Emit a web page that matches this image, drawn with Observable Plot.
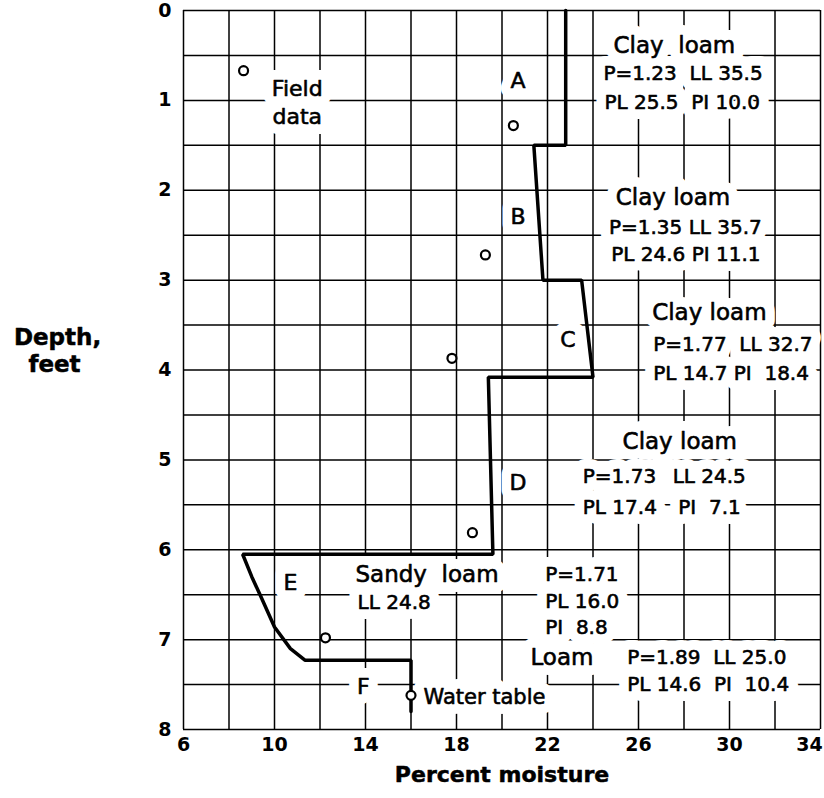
<!DOCTYPE html>
<html>
<head>
<meta charset="utf-8">
<script src="https://cdn.jsdelivr.net/npm/d3@7"></script>
<script src="https://cdn.jsdelivr.net/npm/@observablehq/plot@0.6"></script>
<style>
  html, body { margin: 0; padding: 0; background: #fff; }
  #chart svg { display: block; }
</style>
</head>
<body>
<div id="chart"></div>
<script>
// ---- data ----
const xTickValues = [6, 10, 14, 18, 22, 26, 30];
const xLastTick = [34];
const yTickValues = [0, 1, 2, 3, 4, 5, 6, 7, 8];
const xGridValues = [6, 8, 10, 12, 14, 16, 18, 20, 22, 24, 26, 28, 30, 32, 34];
const yGridValues = [0, 0.5, 1, 1.5, 2, 2.5, 3, 3.5, 4, 4.5, 5, 5.5, 6, 6.5, 7, 7.5, 8];

// moisture profile (percent moisture vs depth, ft)
const profileMoisture = [22.8, 22.8, 21.4, 21.8, 23.5, 24.0, 19.4, 19.6, 8.6, 9.0, 9.4, 10.0, 10.7, 11.35, 16.0, 16.0];
const profileDepth    = [0,    1.5,  1.5,  3.0,  3.0,  4.08, 4.08, 6.05, 6.05, 6.3, 6.52, 6.86, 7.1, 7.23, 7.23, 7.8];

// field data points
const fieldMoisture = [8.64, 20.5, 19.27, 17.8, 18.7, 12.24];
const fieldDepth    = [0.67, 1.28, 2.72, 3.87, 5.81, 6.98];

// water table
const waterMoisture = [16.0];
const waterDepth = [7.62];

// layer letters
const layerNames = ["A", "B", "C", "D", "E", "F"];
const layerX = [20.7, 20.7, 22.9, 20.7, 10.7, 13.9];
const layerY = [0.78, 2.3, 3.67, 5.26, 6.37, 7.53];

// soil type headings
const soilNames = ["Clay\u00a0 loam", "Clay loam", "Clay loam", "Clay loam", "Sandy\u00a0 loam", "Loam"];
const soilX = [24.9, 25.0, 26.6, 25.3, 13.56, 21.25];
const soilY = [0.39, 2.08, 3.36, 4.8, 6.28, 7.2];

// soil property lines
const propText = [
  "P=1.23\u00a0 LL 35.5", "PL 25.5\u00a0 PI 10.0",
  "P=1.35 LL 35.7", "PL 24.6 PI 11.1",
  "P=1.77\u00a0 LL 32.7", "PL 14.7 PI\u00a0 18.4",
  "P=1.73", "LL 24.5", "PL 17.4", "PI\u00a0 7.1",
  "LL 24.8", "P=1.71", "PL 16.0", "PI\u00a0 8.8",
  "P=1.89\u00a0 LL 25.0", "PL 14.6\u00a0 PI\u00a0 10.4"
];
const propX = [24.46, 24.5, 24.7, 24.8, 26.65, 26.65, 23.55, 27.5, 23.55, 27.75, 13.65, 21.9, 21.9, 21.9, 25.5, 25.5];
const propY = [0.70, 1.03, 2.41, 2.72, 3.72, 4.04, 5.19, 5.19, 5.53, 5.53, 6.59, 6.28, 6.58, 6.87, 7.2, 7.5];

// other notes
const noteText = ["Field", "data"];
const noteX = [11.0, 11.0];
const noteY = [0.87, 1.19];
const waterLabel = ["Water table"];
const waterLabelX = [16.55];
const waterLabelY = [7.64];

const xTitle = "Percent moisture";
const yTitle = ["Depth,", "feet"];

// ---- build tables ----
const zip = (xs, ys, ts) => xs.map((x, i) => ({x, y: ys[i], t: ts ? ts[i] : null}));
const profile = zip(profileMoisture, profileDepth);
const field = zip(fieldMoisture, fieldDepth);
const water = zip(waterMoisture, waterDepth);
const layers = zip(layerX, layerY, layerNames);
const soils = zip(soilX, soilY, soilNames);
const props = zip(propX, propY, propText);
const notes = zip(noteX, noteY, noteText);
const waterNote = zip(waterLabelX, waterLabelY, waterLabel);

const FONT = "DejaVu Sans, Liberation Sans, sans-serif";
const haloStyle = {stroke: "white", strokeWidth: 20, fill: "white", strokeLinejoin: "round"};
const inkStyle = {fill: "black", stroke: "black", strokeWidth: 0.6};

const groups = [
  [soils, "start", 23],
  [props, "start", 20],
  [notes, "middle", 22],
  [waterNote, "start", 21],
  [layers, "middle", 22]
];
const textMarks = (style) => groups.map(([data, anchor, size]) =>
  Plot.text(data, {x: "x", y: "y", text: "t", textAnchor: anchor, fontSize: size, ...style}));

const chart = Plot.plot({
  width: 824,
  height: 798,
  marginLeft: 183,
  marginRight: 4,
  marginTop: 10,
  marginBottom: 69,
  style: {fontFamily: FONT, background: "white"},
  x: {domain: [6, 34]},
  y: {domain: [0, 8], reverse: true},
  marks: [
    Plot.ruleX(xGridValues, {stroke: "black", strokeWidth: 1.5}),
    Plot.ruleY(yGridValues, {stroke: "black", strokeWidth: 1.5}),
    Plot.axisY(yTickValues, {tickSize: 0, tickPadding: 12, fontSize: 19, fontWeight: "bold", label: null, tickFormat: d => String(d)}),
    Plot.axisX(xTickValues, {tickSize: 0, tickPadding: 8, fontSize: 19, fontWeight: "bold", label: null, tickFormat: d => String(d)}),
    Plot.axisX(xLastTick, {tickSize: 0, tickPadding: 8, fontSize: 19, fontWeight: "bold", label: null, dx: -11, tickFormat: d => String(d)}),
    // axis titles
    Plot.text([xTitle], {frameAnchor: "bottom", lineAnchor: "middle", dy: 45, fontSize: 22, fontWeight: "bold", fill: "black", stroke: "black", strokeWidth: 0.5}),
    Plot.text([yTitle[0]], {frameAnchor: "left", y: [3.64], dx: -126, textAnchor: "middle", fontSize: 23, fontWeight: "bold", fill: "black", stroke: "black", strokeWidth: 0.5}),
    Plot.text([yTitle[1]], {frameAnchor: "left", y: [3.94], dx: -129, textAnchor: "middle", fontSize: 23, fontWeight: "bold", fill: "black", stroke: "black", strokeWidth: 0.5}),
    // annotations: white erasing halos first, then the inked text
    ...textMarks(haloStyle),
    ...textMarks(inkStyle),
    // moisture profile
    Plot.line(profile, {x: "x", y: "y", stroke: "black", strokeWidth: 3.5, strokeLinejoin: "miter"}),
    // field data
    Plot.dot(field, {x: "x", y: "y", r: 4.5, stroke: "black", strokeWidth: 2.2, fill: "white"}),
    Plot.dot(water, {x: "x", y: "y", r: 4.5, stroke: "black", strokeWidth: 2.2, fill: "white"})
  ]
});
document.getElementById("chart").appendChild(chart);
</script>
</body>
</html>
